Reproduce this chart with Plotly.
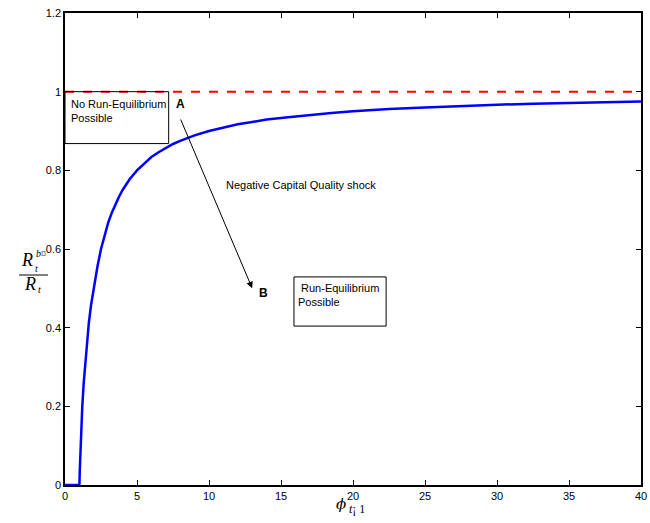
import plotly.graph_objects as go

# Data
phi = [0, 1.0, 1.03, 1.06, 1.1, 1.15, 1.2, 1.3, 1.4, 1.5, 1.65, 1.8, 2.0, 2.25, 2.5, 2.75,
       3.0, 3.25, 3.5, 3.75, 4.0, 4.5, 5.0, 5.5, 6.0, 6.5, 7.0, 7.5, 8.0, 9.0, 10.0, 11.0,
       12.0, 13.0, 14.0, 15.5, 17.0, 18.5, 20.0, 22.5, 25.0, 27.5, 30.0, 32.5, 35.0, 37.5,
       40.0]
ratio = [0, 0.0, 0.04, 0.08, 0.12, 0.16, 0.2, 0.26, 0.31, 0.36, 0.41, 0.455, 0.5, 0.555,
         0.6, 0.636, 0.667, 0.692, 0.714, 0.733, 0.75, 0.778, 0.80, 0.818, 0.834, 0.846,
         0.857, 0.867, 0.875, 0.889, 0.90, 0.909, 0.917, 0.923, 0.929, 0.935, 0.941, 0.946,
         0.95, 0.956, 0.96, 0.964, 0.967, 0.969, 0.971, 0.973, 0.975]
thr_x = [0, 40]
thr_y = [1.0, 1.0]
x_ticks = [0, 5, 10, 15, 20, 25, 30, 35, 40]
y_ticks = [0, 0.2, 0.4, 0.6, 0.8, 1.0, 1.2]

L, R, T, B = 65, 9, 13, 38
W, H = 650, 523
PW, PH = W - L - R, H - T - B

def px(xp):
    return (xp - L) / PW

def py(yp):
    return (H - B - yp) / PH

fig = go.Figure()
fig.add_trace(go.Scatter(x=phi, y=ratio, mode="lines",
                         line=dict(color="#0000ff", width=2.5, shape="linear"),
                         showlegend=False, hoverinfo="skip"))
fig.add_trace(go.Scatter(x=thr_x, y=thr_y, mode="lines",
                         line=dict(color="#ff0000", width=2, dash="dash"),
                         showlegend=False, hoverinfo="skip"))

axis_common = dict(showgrid=False, zeroline=False, showline=True, linecolor="black",
                   linewidth=1.5, mirror="ticks", ticks="inside", ticklen=5,
                   tickcolor="black", tickfont=dict(family="Liberation Sans, Arial", size=11,
                                                    color="black"))
fig.update_xaxes(range=[0, 40], tickvals=x_ticks, ticktext=[str(v) for v in x_ticks],
                 **axis_common)
fig.update_yaxes(range=[0, 1.2], tickvals=y_ticks,
                 ticktext=["0", "0.2", "0.4", "0.6", "0.8", "1", "1.2"], **axis_common)

shapes = [
    dict(type="rect", xref="x", yref="y", x0=0, x1=7.2, y0=0.868, y1=1.0,
         line=dict(color="black", width=1)),
    dict(type="rect", xref="x", yref="y", x0=15.9, x1=22.3, y0=0.404, y1=0.529,
         line=dict(color="black", width=1)),
    dict(type="line", xref="paper", yref="paper", x0=px(19), x1=px(48), y0=py(275), y1=py(275),
         line=dict(color="black", width=1)),
]

tf = dict(family="Liberation Sans, Arial", size=11, color="black")
serif = "Liberation Serif, DejaVu Serif, serif"

def lab(xp, yp, text, size, family=serif, xanchor="center"):
    return dict(x=px(xp), y=py(yp), xref="paper", yref="paper", text=text,
                showarrow=False, xanchor=xanchor, yanchor="middle",
                font=dict(family=family, size=size, color="black"))

annotations = [
    dict(x=0.25, y=0.99, xref="x", yref="y", text="No Run-Equilibrium<br>Possible",
         showarrow=False, xanchor="left", yanchor="top", align="left", font=tf),
    dict(x=16.05, y=0.52, xref="x", yref="y", text=" Run-Equilibrium<br>Possible",
         showarrow=False, xanchor="left", yanchor="top", align="left", font=tf),
    dict(x=16.4, y=0.763, xref="x", yref="y", text="Negative Capital Quality shock",
         showarrow=False, xanchor="center", yanchor="middle", font=tf),
    dict(x=8.0, y=0.968, xref="x", yref="y", text="<b>A</b>", showarrow=False,
         xanchor="center", yanchor="middle",
         font=dict(family="Liberation Sans, Arial", size=12, color="black")),
    dict(x=13.8, y=0.487, xref="x", yref="y", text="<b>B</b>", showarrow=False,
         xanchor="center", yanchor="middle",
         font=dict(family="Liberation Sans, Arial", size=12, color="black")),
    dict(x=13.0, y=0.5, ax=7.99, ay=0.933, xref="x", yref="y", axref="x", ayref="y",
         text="", showarrow=True, arrowhead=2, arrowsize=1.3, arrowwidth=1,
         arrowcolor="black"),
    # y-axis label: R_t^{b*} / R_t
    lab(27, 260, "<i>R</i>", 18),
    lab(34, 253, "<i>b</i>¤", 10, xanchor="left"),
    lab(33, 268, "<i>t</i>", 10, xanchor="left"),
    lab(30, 284, "<i>R</i>", 18),
    lab(36, 289, "<i>t</i>", 10, xanchor="left"),
    # x-axis label: phi_{t-1}
    lab(341, 504, "<i>ϕ</i>", 15, family="DejaVu Serif, serif"),
    lab(347, 509, "<i>t</i>¡ 1", 12, xanchor="left"),
]

fig.update_layout(width=W, height=H,
                  margin=dict(l=L, r=R, t=T, b=B, autoexpand=False),
                  plot_bgcolor="white", paper_bgcolor="white",
                  shapes=shapes, annotations=annotations, showlegend=False)

fig.write_html("out.html", config={"displayModeBar": False},
               post_script="document.body.style.margin='0';document.body.style.overflow='hidden';")
